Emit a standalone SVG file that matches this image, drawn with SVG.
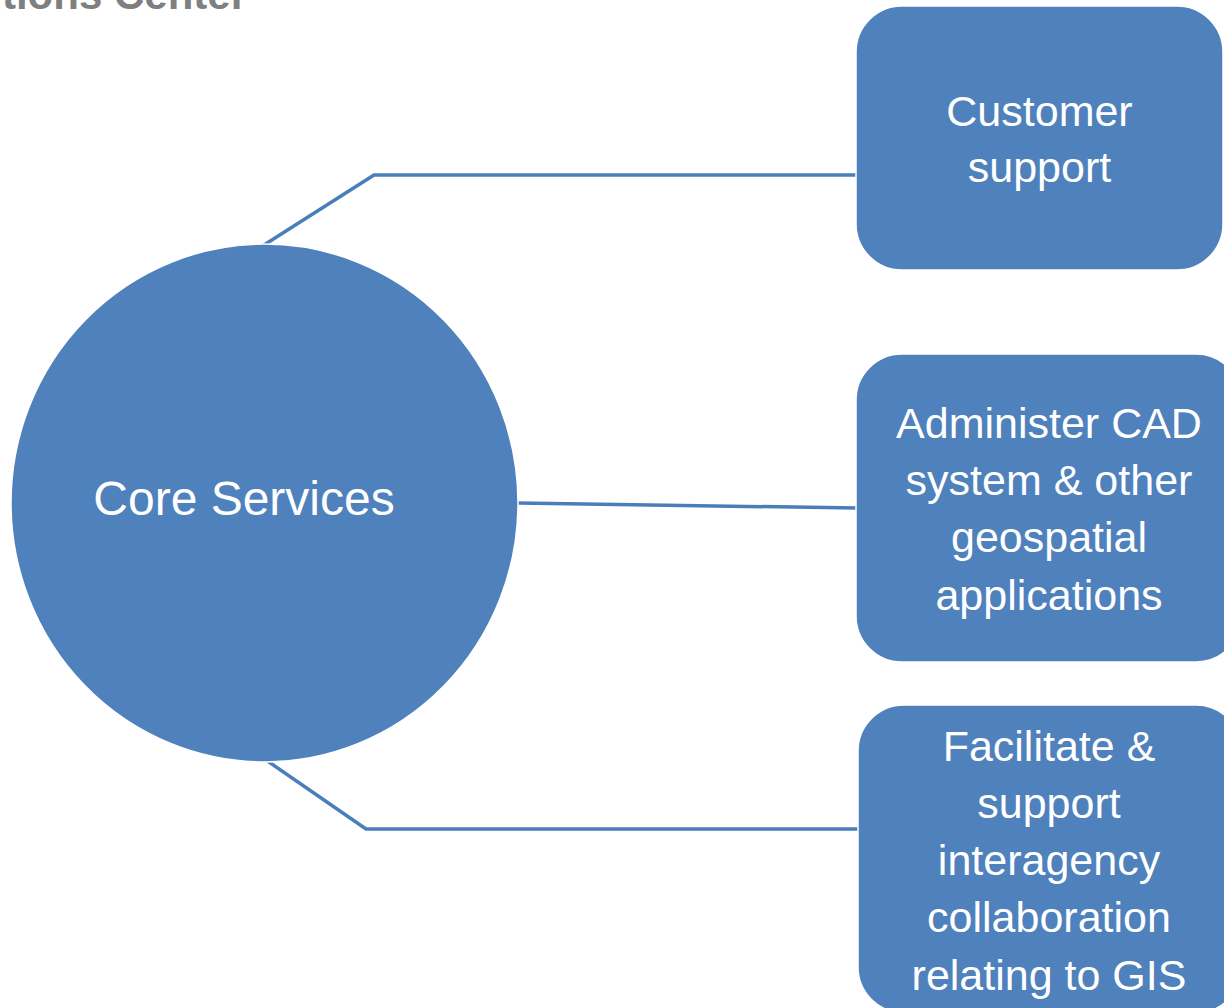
<svg xmlns="http://www.w3.org/2000/svg" width="1224" height="1008" viewBox="0 0 1224 1008">
<style>
.node{fill:#4F81BD;stroke:#ffffff;stroke-width:1.5}
.conn{fill:none;stroke:#4A7EBB;stroke-width:3.5}
.lbl{font-family:"Liberation Sans",Arial,sans-serif;fill:#ffffff;text-anchor:middle}
.title{font-family:"Liberation Sans",Arial,sans-serif;font-weight:bold;fill:#7F7F7F}
</style>
<rect width="1224" height="1008" fill="#ffffff"/>
<text class="title" x="247" y="9" font-size="42" text-anchor="end">tions Center</text>
<g id="connectors">
<polyline class="conn" points="264,245 374,175 857,175"/>
<polyline class="conn" points="518,503 857,508"/>
<polyline class="conn" points="266,760 366,829 858,829"/>
</g>
<g id="core">
<ellipse class="node" cx="264.5" cy="503" rx="253.5" ry="259"/>
<text class="lbl" x="244" y="515" font-size="48">Core Services</text>
</g>
<g id="customer">
<rect class="node" x="856" y="6" width="367" height="264" rx="46" ry="46"/>
<text class="lbl" font-size="43"><tspan x="1039.5" y="126">Customer</tspan><tspan x="1039.5" y="182">support</tspan></text>
</g>
<g id="administer">
<rect class="node" x="856" y="354" width="386" height="308" rx="46" ry="46"/>
<text class="lbl" font-size="43"><tspan x="1049" y="438">Administer CAD</tspan><tspan x="1049" y="495">system &amp; other</tspan><tspan x="1049" y="552">geospatial</tspan><tspan x="1049" y="610">applications</tspan></text>
</g>
<g id="facilitate">
<rect class="node" x="858" y="705" width="384" height="308" rx="46" ry="46"/>
<text class="lbl" font-size="43"><tspan x="1049" y="761">Facilitate &amp;</tspan><tspan x="1049" y="818">support</tspan><tspan x="1049" y="875">interagency</tspan><tspan x="1049" y="932">collaboration</tspan><tspan x="1049" y="990">relating to GIS</tspan></text>
</g>
</svg>
